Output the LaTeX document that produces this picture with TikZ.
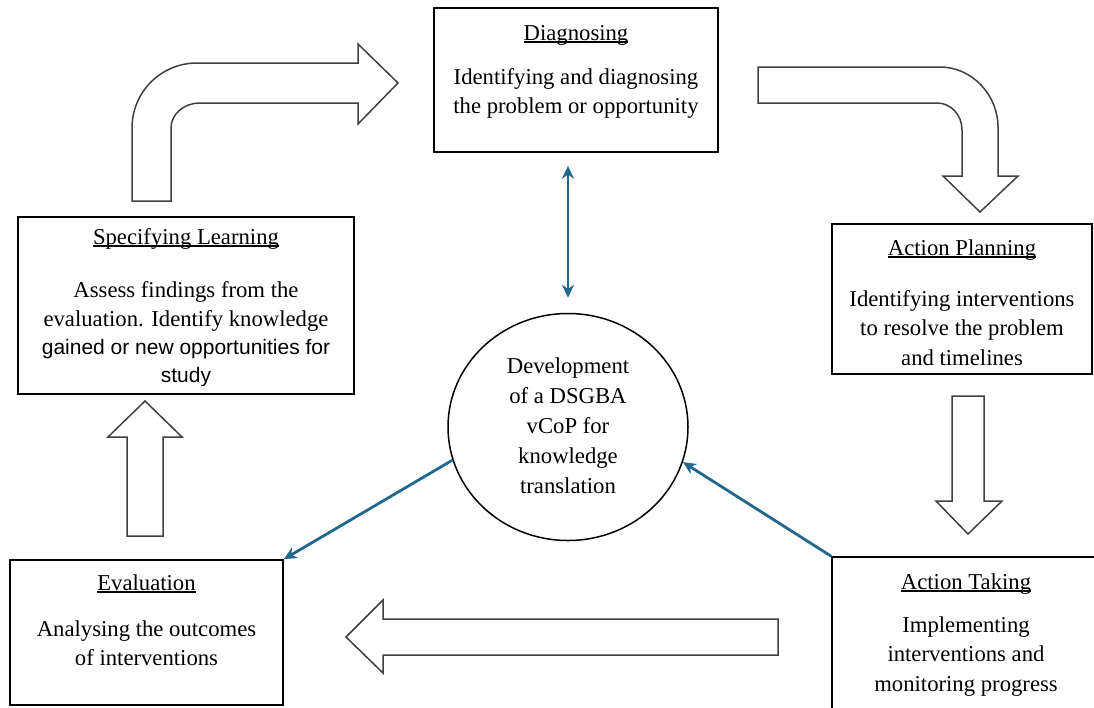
\documentclass[tikz,border=0pt]{standalone}
\usepackage{fontspec}
\setmainfont{Liberation Serif}
\newfontfamily\sansfnt{Liberation Sans}
\usepackage{tikz}
\usetikzlibrary{arrows.meta, shapes.geometric}

\definecolor{linkblue}{RGB}{34,103,140}
\newcommand{\ulhead}[1]{\setbox0\hbox{#1}\rlap{\rule[-0.13em]{\wd0}{0.065em}}\box0}

\begin{document}
\begin{tikzpicture}[x=1pt, y=-1pt]
    \tikzstyle{box}=[rectangle, draw, line width=1.5pt, inner sep=0pt]
    \tikzstyle{txt}=[anchor=base, align=center, inner sep=0pt, font={\fontsize{22.7}{29.5}\selectfont}]
    \tikzstyle{link}=[draw=linkblue, line width=2.8pt]
    \tikzstyle{bigarrow}=[draw=black!75, line width=1.5pt, fill=white]

    \useasboundingbox (0,0) rectangle (1094,707);

    % stage boxes
    \node[box, minimum width=284pt, minimum height=144pt] (diag) at (576,80) {};
    \node[box, minimum width=260pt, minimum height=150pt] (plan) at (962,299) {};
    \node[box, minimum width=278pt, minimum height=163pt] (take) at (971,638.5) {};
    \node[box, minimum width=273pt, minimum height=145pt] (eval) at (146.5,632.5) {};
    \node[box, minimum width=336pt, minimum height=177pt] (spec) at (186,305.5) {};
    \node[ellipse, draw, line width=1.5pt, inner sep=0pt, minimum width=240pt, minimum height=227pt] (dsg) at (568,427) {};

    % texts, placed by the baseline of their last line
    \node[txt] (diagtxt) at (576,113.5) {\ulhead{Diagnosing}\\[14.5pt] Identifying and diagnosing\\ the problem or opportunity};
    \node[txt] (plantxt) at (962,365) {\ulhead{Action Planning}\\[21.5pt] Identifying interventions\\ to resolve the problem\\ and timelines};
    \node[txt] (taketxt) at (966,691) {\ulhead{Action Taking}\\[13.5pt] Implementing\\ interventions and\\ monitoring progress};
    \node[txt] (evaltxt) at (146.5,665.5) {\ulhead{Evaluation}\\[16.5pt] Analysing the outcomes\\ of interventions};
    \begin{scope}
        \clip (spec.north west) rectangle (354,385);
        \node[txt] (spectxt) at (186,382) {\ulhead{Specifying Learning}\\[23.5pt] Assess findings from the\\ evaluation. Identify knowledge\\[-1.5pt] {\sansfnt\fontsize{21}{29.5}\selectfont gained or new opportunities for}\\[-2pt] {\sansfnt\fontsize{21}{29.5}\selectfont study}};
    \end{scope}
    \node[txt] (dsgtxt) at (568,493) {Development\\[0.5pt] of a DSGBA\\[0.5pt] vCoP for\\[0.5pt] knowledge\\[0.5pt] translation};

    % links to the centre
    \draw[link, {Stealth[length=13pt, width=12pt]}-{Stealth[length=13pt, width=12pt]}, shorten <=13pt, shorten >=15pt] (dsg.north |- diag.south) -- (dsg.north);
    \draw[link, -{Stealth[length=13pt, width=12pt]}] (dsg.196) -- (eval.north east);
    \draw[link, -{Stealth[length=13pt, width=12pt]}] (take.north west) -- (dsg.-17);

    % cycle arrows
    \draw[bigarrow] (132,201) -- (132,128) .. controls (132,92) and (161,63) .. (197,63) -- (358,63) -- (358,44)
        -- (398,83) -- (358,124) -- (358,103) -- (200,103) .. controls (184,103) and (171,114) .. (171,128) -- (171,201) -- cycle;
    \draw[bigarrow] (758,67) -- (940,67) .. controls (972,67) and (998,95) .. (998,127) -- (998,176) -- (1018,176)
        -- (980,212) -- (943,176) -- (962,176) -- (962,130) .. controls (962,115) and (951,103) .. (937,103) -- (758,103) -- cycle;
    \draw[bigarrow] (952,396) -- (984,396) -- (984,501) -- (1002,501) -- (968,534) -- (936,501) -- (952,501) -- cycle;
    \draw[bigarrow] (778,619) -- (778,655) -- (383,655) -- (383,673) -- (346,637) -- (383,600) -- (383,619) -- cycle;
    \draw[bigarrow] (127,536) -- (127,437) -- (108,437) -- (145,401) -- (182,437) -- (163,437) -- (163,536) -- cycle;
\end{tikzpicture}
\end{document}
